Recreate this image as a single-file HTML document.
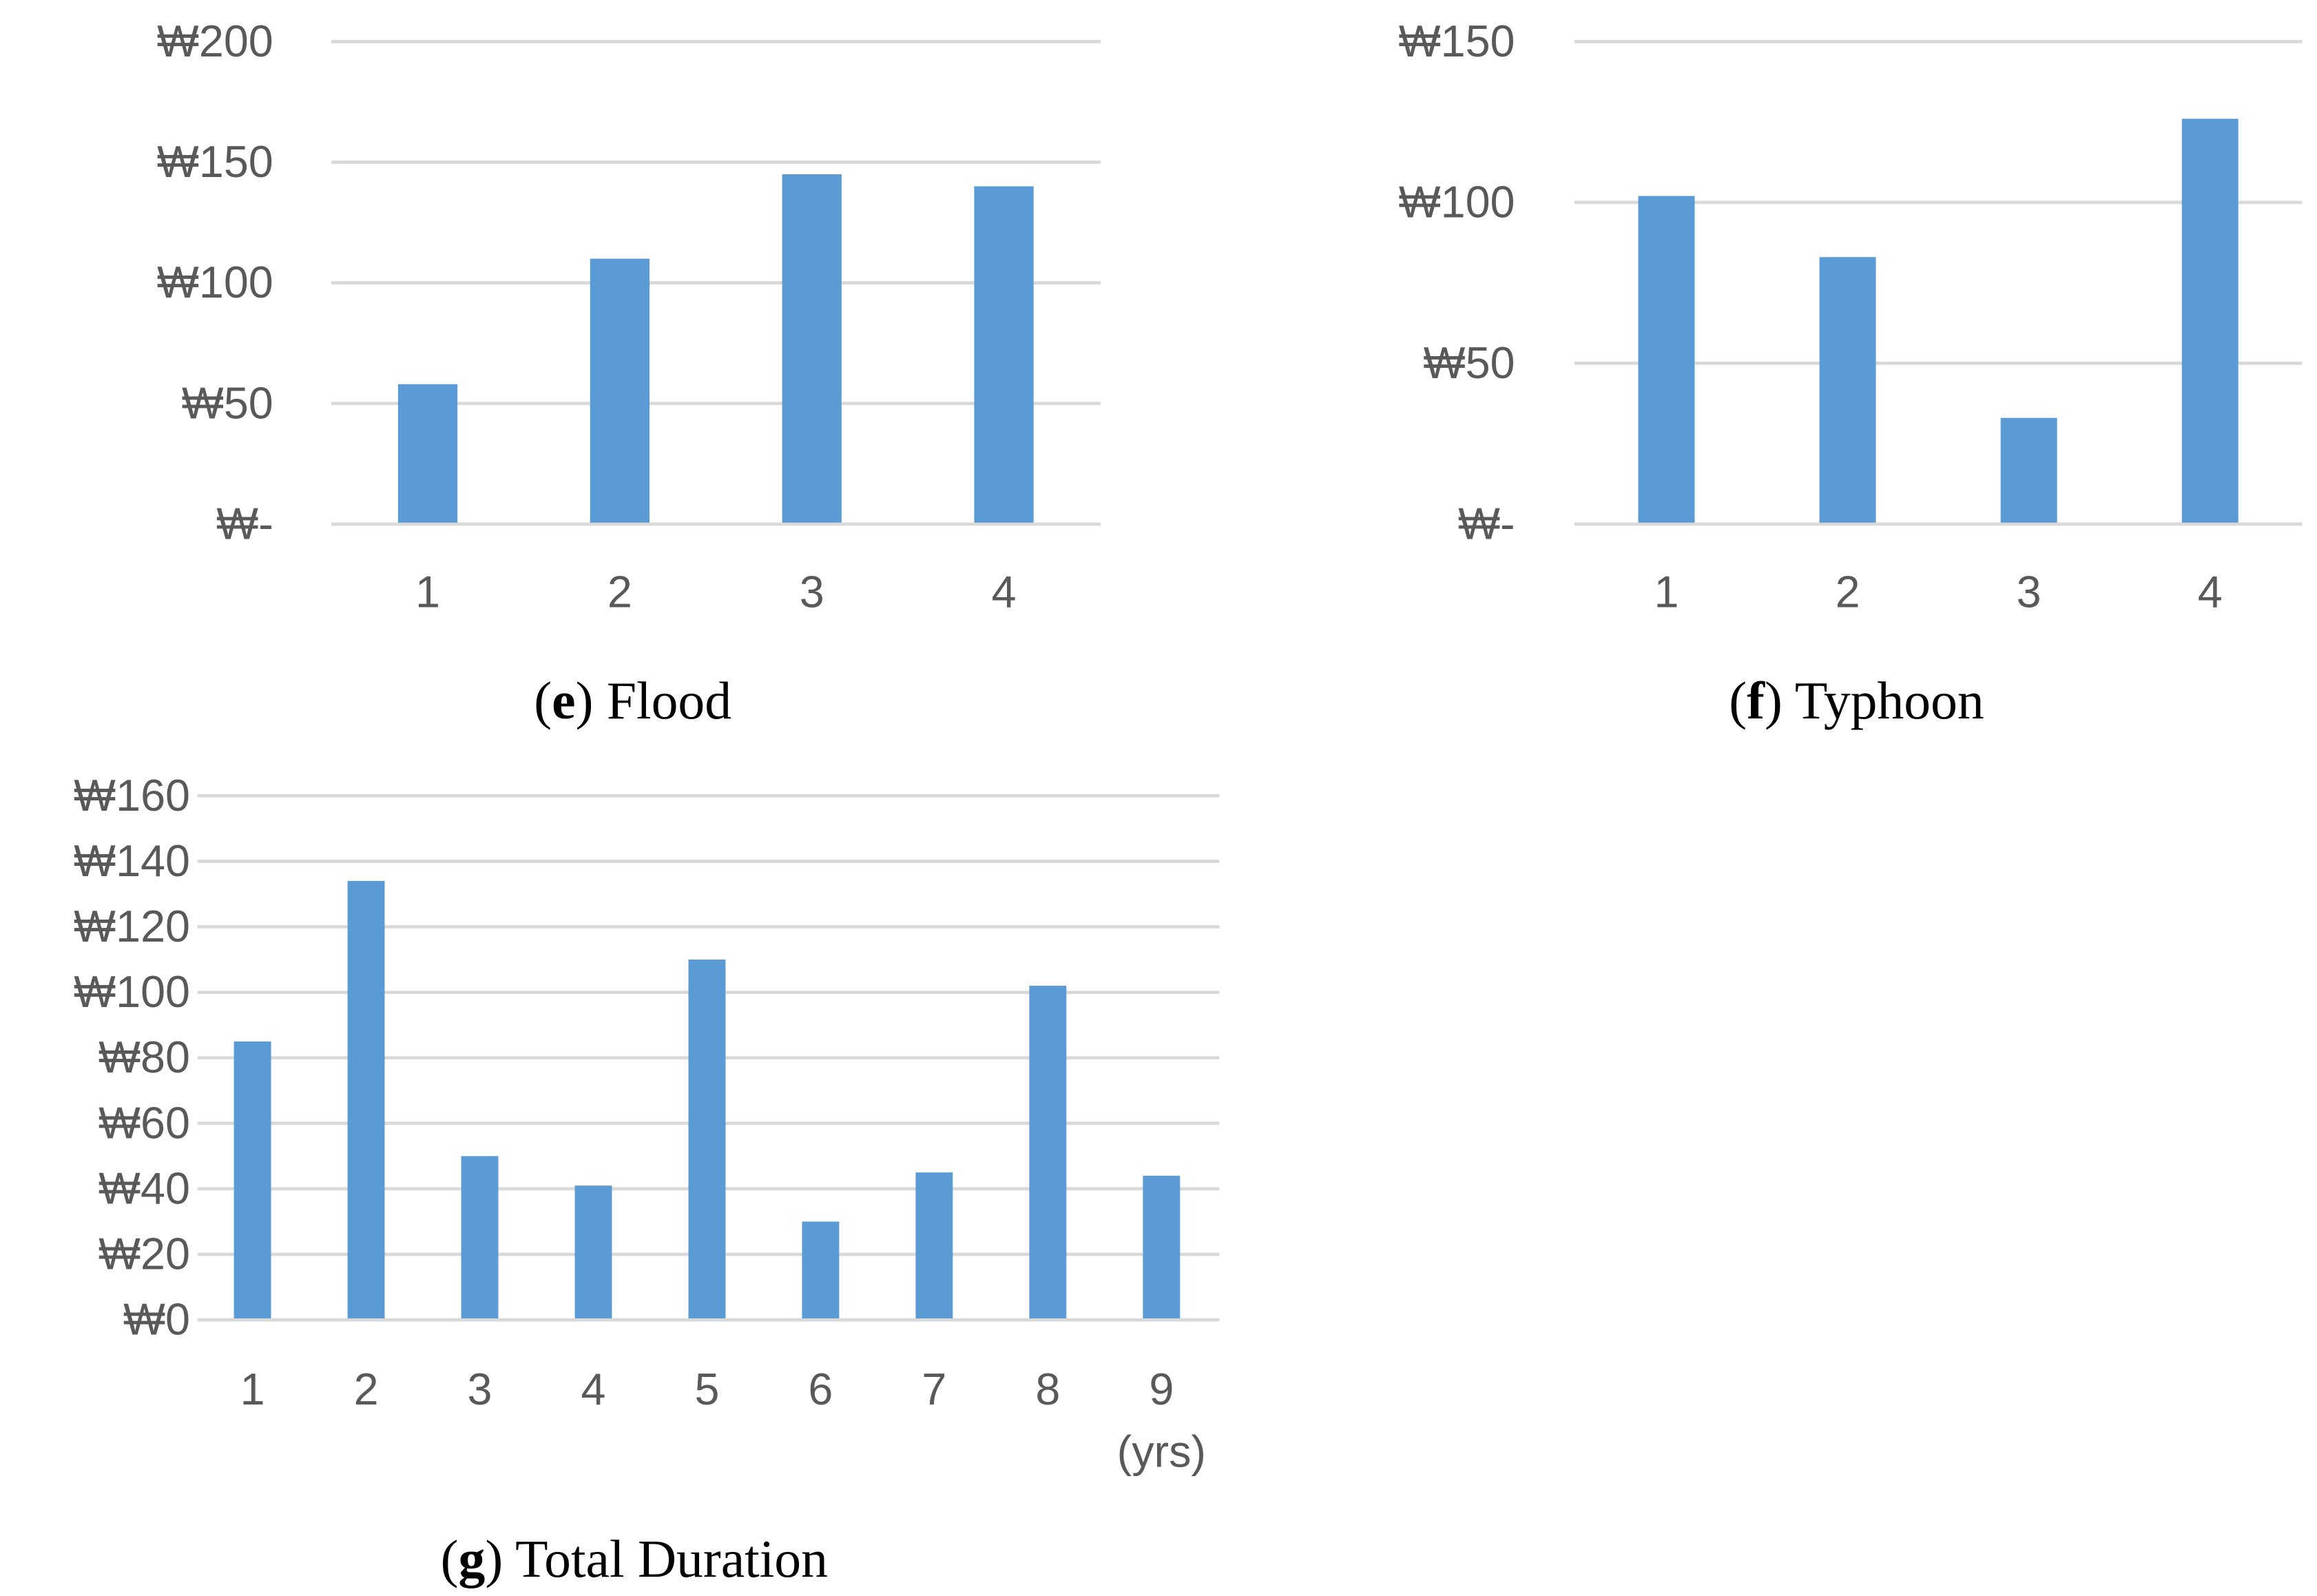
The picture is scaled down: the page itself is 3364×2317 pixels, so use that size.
<!DOCTYPE html>
<html><head><meta charset="utf-8"><style>
html,body{margin:0;padding:0;background:#fff;}
svg{display:block;}
.tick{font-family:"Liberation Sans","Noto Sans CJK KR",sans-serif;font-size:30px;fill:#595959;}
.cap{font-family:"Liberation Serif","Noto Serif CJK SC",serif;font-size:36px;fill:#000;}
</style></head><body>
<svg id="fig" width="3364" height="2317" viewBox="0 0 1560 1075" preserveAspectRatio="none" xmlns="http://www.w3.org/2000/svg"></svg>
<script>
const floodCats=["1","2","3","4"];
const floodVals=[58,110,145,140];
const floodTicks=[0,50,100,150,200];
const floodTickLabels=["₩-","₩50","₩100","₩150","₩200"];
const typhoonCats=["1","2","3","4"];
const typhoonVals=[102,83,33,126];
const typhoonTicks=[0,50,100,150];
const typhoonTickLabels=["₩-","₩50","₩100","₩150"];
const totalCats=["1","2","3","4","5","6","7","8","9"];
const totalVals=[85,134,50,41,110,30,45,102,44];
const totalTicks=[0,20,40,60,80,100,120,140,160];
const totalTickLabels=["₩0","₩20","₩40","₩60","₩80","₩100","₩120","₩140","₩160"];

const NS="http://www.w3.org/2000/svg";
const svg=document.getElementById('fig');
function mk(tag,attrs,parent){const e=document.createElementNS(NS,tag);for(const k in attrs)e.setAttribute(k,attrs[k]);(parent||svg).appendChild(e);return e;}

function chart(name,cfg,cats,vals,ticks,labels){
  const g=mk('g',{});
  
  
  const max=ticks[ticks.length-1];
  const y=v=>cfg.y0-(v/max)*(cfg.y0-cfg.y1);
  const x=i=>cfg.c0+cfg.step*i;
  ticks.forEach((t,i)=>{
    const l=mk('line',{x1:cfg.x0,x2:cfg.x1,y1:y(t),y2:y(t),stroke:'#d9d9d9','stroke-width':2.2},g);
    
    
    const tx=mk('text',{x:cfg.lx,y:y(t)+10,'text-anchor':'end',class:'tick'},g);
    tx.textContent=labels[i];
    
    
  });
  vals.forEach((v,i)=>{
    const r=mk('rect',{x:x(i)-cfg.bw/2,y:y(v),width:cfg.bw,height:y(0)-y(v)-1,fill:'#5b9bd5'},g);
    
    
    const tx=mk('text',{x:x(i),y:cfg.xly,'text-anchor':'middle',class:'tick'},g);
    tx.textContent=cats[i];
    
    
  });
  return {g,x};
}
chart('flood',{x0:223,x1:741,y0:353,y1:28,c0:288,step:129.3,bw:40,lx:184,xly:409},floodCats,floodVals,floodTicks,floodTickLabels);
chart('typhoon',{x0:1060,x1:1550,y0:353,y1:28,c0:1122,step:122,bw:38,lx:1020,xly:409},typhoonCats,typhoonVals,typhoonTicks,typhoonTickLabels);
const tc=chart('total',{x0:133,x1:821,y0:889,y1:536,c0:170,step:76.5,bw:25,lx:128,xly:946},totalCats,totalVals,totalTicks,totalTickLabels);
const yrs=mk('text',{x:tc.x(8),y:988,'text-anchor':'middle',class:'tick'});
yrs.textContent='(yrs)';



function cap(x,y,letter,rest,name){
  const t=mk('text',{x:x,y:y,'text-anchor':'middle',class:'cap'});
  
  
  const a=mk('tspan',{},t);a.textContent='(';
  const b=mk('tspan',{'font-weight':'bold'},t);b.textContent=letter;
  const c=mk('tspan',{},t);c.textContent=') '+rest;
}
cap(426,484,'e','Flood','flood-caption');
cap(1250,484,'f','Typhoon','typhoon-caption');
cap(427,1062,'g','Total Duration','total-duration-caption');
</script>
</body></html>
